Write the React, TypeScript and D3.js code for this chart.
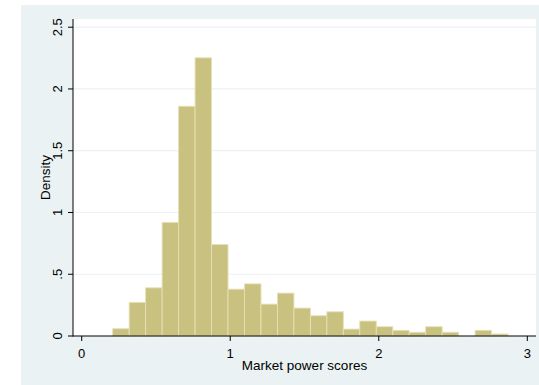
import React from "react";
import * as d3 from "d3";

const densities: number[] = [
  0.059, 0.272, 0.39, 0.92, 1.86, 2.252, 0.74, 0.379, 0.422, 0.258, 0.347, 0.226,
  0.164, 0.196, 0.056, 0.121, 0.075, 0.046, 0.03, 0.075, 0.03, 0, 0.046, 0.016,
];
const binStart = 0.2088;
const binWidth = 0.1109;
const xTicks: number[] = [0, 1, 2, 3];
const yTicks: number[] = [0, 0.5, 1, 1.5, 2, 2.5];
const yTickLabels: string[] = ["0", ".5", "1", "1.5", "2", "2.5"];
const xTitle = "Market power scores";
const yTitle = "Density";

const W = 539;
const H = 385;
const plot = { left: 73, right: 536, top: 19, bottom: 336 };
const FONT = "'Liberation Sans', Arial, Helvetica, sans-serif";

export default function App() {
  const x = d3.scaleLinear().domain([0, 3]).range([81.7, 527.3]);
  const y = d3.scaleLinear().domain([0, 2.5]).range([336, 27.2]);
  const bins = densities.map((d, i) => ({
    x0: binStart + i * binWidth,
    x1: binStart + (i + 1) * binWidth,
    d,
  }));
  return (
    <svg
      width={W}
      height={H}
      style={{ position: "absolute", left: 0, top: 0, display: "block" }}
      fontFamily={FONT}
    >
      <rect x={0} y={0} width={W} height={H} fill="#ffffff" />
      <rect x={21} y={5} width={W - 21} height={H - 5} fill="#EAF2F3" />
      <rect
        x={plot.left}
        y={plot.top}
        width={plot.right - plot.left}
        height={plot.bottom - plot.top}
        fill="#ffffff"
      />
      {yTicks
        .filter((t) => t > 0)
        .map((t) => (
          <line
            key={"g" + t}
            x1={plot.left}
            x2={plot.right}
            y1={y(t)}
            y2={y(t)}
            stroke="#EAF2F3"
            strokeWidth={1.2}
          />
        ))}
      {bins
        .filter((b) => b.d > 0)
        .map((b, i) => (
          <rect
            key={"b" + i}
            x={x(b.x0)}
            y={y(b.d)}
            width={x(b.x1) - x(b.x0)}
            height={y(0) - y(b.d)}
            fill="#C9C17F"
            stroke="#E6E0B5"
            strokeWidth={0.9}
          />
        ))}
      <line x1={plot.left} x2={plot.left} y1={plot.top} y2={plot.bottom + 0.5} stroke="#000" strokeWidth={1} />
      <line x1={plot.left} x2={plot.right} y1={plot.bottom} y2={plot.bottom} stroke="#000" strokeWidth={1} />
      {yTicks.map((t, i) => (
        <g key={"yt" + t}>
          <line x1={plot.left - 5} x2={plot.left} y1={y(t)} y2={y(t)} stroke="#000" strokeWidth={1} />
          <text
            transform={`translate(61.5,${y(t)}) rotate(-90)`}
            textAnchor="middle"
            fontSize={13}
            fill="#000"
          >
            {yTickLabels[i]}
          </text>
        </g>
      ))}
      {xTicks.map((t) => (
        <g key={"xt" + t}>
          <line x1={x(t)} x2={x(t)} y1={plot.bottom} y2={plot.bottom + 5} stroke="#000" strokeWidth={1} />
          <text x={x(t)} y={357.5} textAnchor="middle" fontSize={13} fill="#000">
            {String(t)}
          </text>
        </g>
      ))}
      <text
        transform={`translate(49.5,${(plot.top + plot.bottom) / 2}) rotate(-90)`}
        textAnchor="middle"
        fontSize={13.5}
        fill="#000"
      >
        {yTitle}
      </text>
      <text x={(plot.left + plot.right) / 2} y={370} textAnchor="middle" fontSize={13.5} fill="#000">
        {xTitle}
      </text>
    </svg>
  );
}
